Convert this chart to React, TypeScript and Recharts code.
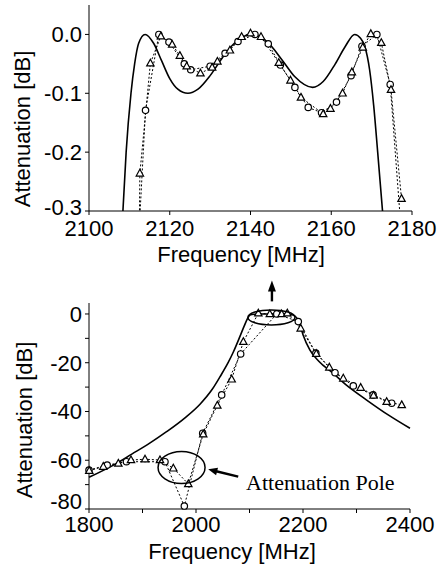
import { LineChart, Line, XAxis, YAxis, ReferenceDot, Label } from "recharts"

// ---- passband detail (upper plot) ----
const topTicksX = [2100, 2120, 2140, 2160, 2180]
const topTicksY = [0, -0.1, -0.2, -0.3]

const topSimFreq = [2108.4, 2109.2, 2110.4, 2111.3, 2112.3, 2113.9, 2116, 2118, 2120, 2122, 2124.5, 2127, 2130, 2133, 2136, 2140, 2144, 2148, 2151, 2155.4, 2158, 2161, 2163.5, 2165.8, 2167.2, 2168.3, 2169.5, 2170.5, 2171.5, 2172.7]
const topSimAtt = [-0.3, -0.2, -0.1, -0.05, -0.015, 0, -0.015, -0.045, -0.075, -0.093, -0.1, -0.093, -0.07, -0.04, -0.015, 0, -0.012, -0.045, -0.072, -0.09, -0.08, -0.05, -0.02, 0, -0.006, -0.02, -0.06, -0.12, -0.2, -0.3]

const topCircFreq = [2112.2, 2114, 2117.3, 2119.8, 2123.6, 2125.2, 2130, 2133.7, 2136.9, 2141.1, 2144.4, 2147.4, 2151, 2154.3, 2157.6, 2161.3, 2164.9, 2167.6, 2171.3, 2174.6, 2177.6]
const topCircAtt = [-0.36, -0.129, 0, -0.013, -0.05, -0.06, -0.054, -0.032, -0.012, 0, -0.016, -0.052, -0.09, -0.124, -0.133, -0.115, -0.07, -0.02, 0, -0.085, -0.36]

const topTriFreq = [2112.4, 2112.6, 2115.2, 2117.8, 2120.6, 2122.5, 2124.2, 2127.6, 2130.5, 2131.8, 2134.9, 2137.8, 2140, 2142.6, 2147, 2149.9, 2152.5, 2158, 2159.8, 2162.8, 2165.1, 2167.8, 2169.8, 2172.4, 2174.8, 2177.4]
const topTriAtt = [-0.36, -0.236, -0.049, -0.003, -0.017, -0.036, -0.054, -0.066, -0.056, -0.046, -0.027, -0.004, 0.002, -0.004, -0.048, -0.078, -0.107, -0.135, -0.126, -0.1, -0.064, -0.022, 0.001, -0.014, -0.094, -0.279]

// ---- wide band (lower plot) ----
const botTicksX = [1800, 1900, 2000, 2100, 2200, 2300, 2400]
const botLabelsX = [1800, 2000, 2200, 2400]
const botTicksY = [0, -10, -20, -30, -40, -50, -60, -70, -80]
const botLabelsY = [0, -20, -40, -60, -80]

const botSimFreq = [1800, 1850, 1880, 1910, 1945, 1980, 2007.5, 2030, 2045, 2060, 2070, 2082, 2090, 2096, 2101, 2110, 2120, 2170, 2180, 2188, 2195, 2200, 2213, 2230, 2256, 2280, 2319, 2360, 2400]
const botSimAtt = [-67, -61.5, -57.5, -53.5, -48.3, -42.5, -37, -31, -25.7, -20, -15.5, -9.3, -5, -2, -0.4, -0.1, 0, 0, -0.3, -1.5, -5, -8.5, -14.8, -19.5, -24.3, -29, -35.3, -41.5, -46.9]

const botCircFreq = [1800, 1834, 1870, 1942, 1978.2, 2012.5, 2048, 2083.5, 2151, 2191.2, 2224, 2259.8, 2294, 2331, 2365.8]
const botCircAtt = [-64, -62, -60.6, -60.6, -78.8, -48.9, -33.2, -16.4, 0, -3.1, -16, -24.1, -29.5, -33.2, -36.6]

const botTriFreq = [1800.5, 1826.7, 1854.8, 1878.5, 1904.7, 1932.7, 1957.6, 1985.6, 2013.5, 2039.8, 2066.7, 2088.5, 2116.5, 2138, 2160, 2170.7, 2195.7, 2224.8, 2249.2, 2275.3, 2307.8, 2331.8, 2356.4, 2384.5]
const botTriAtt = [-64.3, -62.6, -61.3, -59.9, -59.6, -59.9, -63.3, -69.7, -49.3, -37.5, -26.8, -11.4, 0.3, 0, 0, 0.3, -5.9, -16.3, -21.9, -26.4, -30.2, -33.4, -36, -37.3]

// annotation anchors (MHz, dB)
const passbandMark = [2141, -1.4]
const poleMark = [1973, -63]
const poleArrowTip = [2022.8, -63.7]
const poleText = [2093.6, -72.2]

const SANS = "'Liberation Sans', Arial, Helvetica, sans-serif"
const SERIF = "'Liberation Serif', 'Times New Roman', serif"
const tickStyle = { fontSize: 22, fill: "#000", fontFamily: SANS }

const rows = (f: number[], v: number[]) => f.map((x, i) => ({ f: x, v: v[i] }))

const OpenCircle = (p: any) => {
  if (p.cx == null || p.cy == null) return <g key={p.index} />
  return <circle key={p.index} cx={p.cx} cy={p.cy} r={3.2} fill="#fff" stroke="#000" strokeWidth={1.2} />
}

const OpenTriangle = (p: any) => {
  if (p.cx == null || p.cy == null) return <g key={p.index} />
  const { cx, cy } = p
  return (
    <path
      key={p.index}
      d={`M${cx},${cy - 4}L${cx + 3.7},${cy + 2.7}L${cx - 3.7},${cy + 2.7}Z`}
      fill="#fff"
      stroke="#000"
      strokeWidth={1.2}
    />
  )
}

// y tick label; the lowest one is lifted a little so it clears the x labels
const yTick = (fmt: (v: number) => string, lowest: number, lift: number) => (p: any) => {
  const v = p.payload.value
  const s = fmt(v)
  if (!s) return <g />
  return (
    <text x={p.x} y={p.y - (v === lowest ? lift : 0)} dy="0.355em" textAnchor="end" fontSize={22} fontFamily={SANS} fill="#000">
      {s}
    </text>
  )
}

const vText = (x: number, y: number, s: string) => (
  <text x={x} y={y} transform={`rotate(-90 ${x} ${y})`} textAnchor="middle" dominantBaseline="central" fontSize={22} fontFamily={SANS} fill="#000">
    {s}
  </text>
)

const hText = (x: number, y: number, s: string) => (
  <text x={x} y={y} textAnchor="middle" fontSize={22} fontFamily={SANS} fill="#000">
    {s}
  </text>
)

function PassbandMark(p: any) {
  const { cx, cy } = p
  const ax = cx + 0.5
  return (
    <g>
      <ellipse cx={cx} cy={cy} rx={23.5} ry={7.5} fill="none" stroke="#000" strokeWidth={1.5} />
      <line x1={ax} y1={cy - 16} x2={ax} y2={cy - 28} stroke="#000" strokeWidth={2.4} />
      <path d={`M${ax},${cy - 37}L${ax + 4},${cy - 26}L${ax - 4},${cy - 26}Z`} fill="#000" />
    </g>
  )
}

function PoleMark(p: any) {
  return <ellipse cx={p.cx} cy={p.cy} rx={23.5} ry={16} fill="none" stroke="#000" strokeWidth={1.5} />
}

function PoleArrow(p: any) {
  const { cx, cy } = p
  return (
    <g>
      <line x1={cx + 30} y1={cy + 7.4} x2={cx + 8} y2={cy + 2} stroke="#000" strokeWidth={2.4} />
      <path d={`M${cx},${cy}L${cx + 9.8},${cy - 1.6}L${cx + 7.9},${cy + 6}Z`} fill="#000" />
    </g>
  )
}

function PoleText(p: any) {
  return (
    <text x={p.cx} y={p.cy} fontSize={22} fontFamily={SERIF} fill="#000">
      Attenuation Pole
    </text>
  )
}

export default function App() {
  return (
    <div style={{ position: "absolute", left: 0, top: 0, width: 439, height: 564, background: "#fff" }}>
      <div style={{ position: "absolute", left: 0, top: 0 }}>
        <LineChart width={439} height={275} margin={{ top: 5, right: 27, bottom: 0, left: 0 }}>
          <XAxis
            type="number"
            dataKey="f"
            domain={[2100, 2180]}
            ticks={topTicksX}
            interval={0}
            allowDataOverflow
            height={64}
            tickSize={4}
            tickMargin={5}
            tick={tickStyle}
            stroke="#000"
          >
            <Label content={() => hText(241, 262, "Frequency [MHz]")} />
          </XAxis>
          <YAxis
            type="number"
            dataKey="v"
            domain={[-0.3, 0.05]}
            ticks={topTicksY}
            interval={0}
            allowDataOverflow
            width={89}
            tickSize={4}
            tickMargin={3}
            stroke="#000"
            tick={yTick((v) => v.toFixed(1), -0.3, 4)}
          >
            <Label content={() => vText(22, 129, "Attenuation [dB]")} />
          </YAxis>
          <Line data={rows(topSimFreq, topSimAtt)} dataKey="v" type="monotone" stroke="#000" strokeWidth={1.6} dot={false} isAnimationActive={false} />
          <Line data={rows(topCircFreq, topCircAtt)} dataKey="v" type="linear" stroke="#000" strokeWidth={1} strokeDasharray="2 2" dot={OpenCircle} isAnimationActive={false} />
          <Line data={rows(topTriFreq, topTriAtt)} dataKey="v" type="linear" stroke="#000" strokeWidth={1} strokeDasharray="2 2" dot={OpenTriangle} isAnimationActive={false} />
        </LineChart>
      </div>
      <div style={{ position: "absolute", left: 0, top: 262 }}>
        <LineChart width={439} height={302} margin={{ top: 41, right: 29, bottom: 0, left: 0 }}>
          <XAxis
            type="number"
            dataKey="f"
            domain={[1800, 2400]}
            ticks={botTicksX}
            interval={0}
            height={55}
            tickSize={4}
            tickMargin={3}
            tick={tickStyle}
            stroke="#000"
            tickFormatter={(v: number) => (botLabelsX.includes(v) ? String(v) : "")}
          >
            <Label content={() => hText(232, 297, "Frequency [MHz]")} />
          </XAxis>
          <YAxis
            type="number"
            dataKey="v"
            domain={[-80, 4.5]}
            ticks={botTicksY}
            interval={0}
            width={89}
            tickSize={4}
            tickMargin={3}
            stroke="#000"
            tick={yTick((v) => (botLabelsY.includes(v) ? String(v) : ""), -80, 8)}
          >
            <Label content={() => vText(24, 158, "Attenuation [dB]")} />
          </YAxis>
          <Line data={rows(botSimFreq, botSimAtt)} dataKey="v" type="monotone" stroke="#000" strokeWidth={1.6} dot={false} isAnimationActive={false} />
          <Line data={rows(botCircFreq, botCircAtt)} dataKey="v" type="linear" stroke="#000" strokeWidth={1} strokeDasharray="2 2" dot={OpenCircle} isAnimationActive={false} />
          <Line data={rows(botTriFreq, botTriAtt)} dataKey="v" type="linear" stroke="#000" strokeWidth={1} strokeDasharray="2 2" dot={OpenTriangle} isAnimationActive={false} />
          <ReferenceDot x={passbandMark[0]} y={passbandMark[1]} ifOverflow="visible" shape={PassbandMark} />
          <ReferenceDot x={poleMark[0]} y={poleMark[1]} ifOverflow="visible" shape={PoleMark} />
          <ReferenceDot x={poleArrowTip[0]} y={poleArrowTip[1]} ifOverflow="visible" shape={PoleArrow} />
          <ReferenceDot x={poleText[0]} y={poleText[1]} ifOverflow="visible" shape={PoleText} />
        </LineChart>
      </div>
    </div>
  )
}
